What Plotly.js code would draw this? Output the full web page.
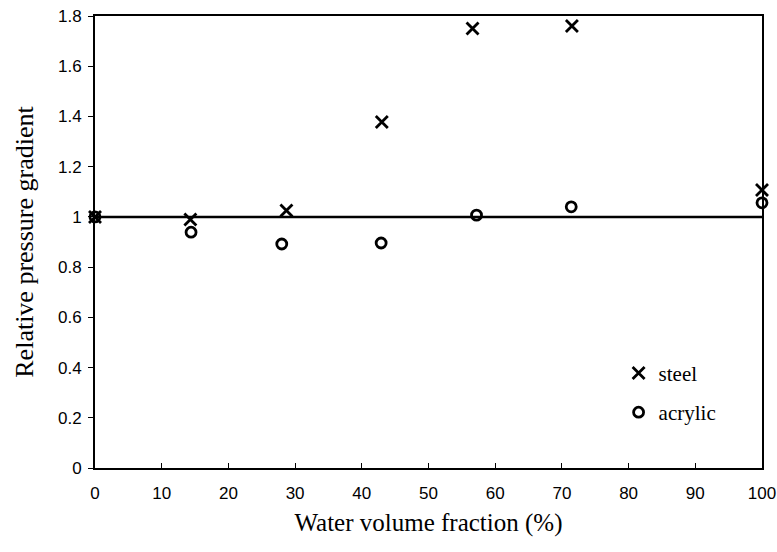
<!DOCTYPE html>
<html>
<head>
<meta charset="utf-8">
<script src="https://cdn.plot.ly/plotly-3.0.1.min.js"></script>
<style>html,body{margin:0;padding:0;background:#fff;}#chart{width:777px;height:552px;}</style>
</head>
<body>
<div id="chart"></div>
<script>
// Data
var steelX = [0, 14.3, 28.7, 43.0, 56.6, 71.5, 100];
var steelY = [1.0, 0.99, 1.025, 1.378, 1.75, 1.76, 1.107];
var acrylicX = [0, 14.4, 28.0, 42.9, 57.2, 71.4, 100];
var acrylicY = [1.0, 0.939, 0.892, 0.896, 1.007, 1.04, 1.056];
var refLineY = 1.0;
var xTicks = [0, 10, 20, 30, 40, 50, 60, 70, 80, 90, 100];
var yTicks = [0, 0.2, 0.4, 0.6, 0.8, 1, 1.2, 1.4, 1.6, 1.8];

var traces = [
  {x: steelX, y: steelY, type: 'scatter', mode: 'markers', name: 'steel', legendgroup: 'a',
   marker: {symbol: 'x-thin-open', size: 12, color: '#000', line: {color: '#000', width: 2.8}}, cliponaxis: false},
  {x: acrylicX, y: acrylicY, type: 'scatter', mode: 'markers', name: 'acrylic', legendgroup: 'b',
   marker: {symbol: 'circle-open', size: 10, color: '#000', line: {color: '#000', width: 2.8}}, cliponaxis: false}
];

var layout = {
  width: 777, height: 552,
  margin: {l: 94.5, r: 15.3, t: 15.7, b: 83.7},
  paper_bgcolor: '#fff', plot_bgcolor: '#fff',
  showlegend: true,
  legend: {x: 0.785, y: 0.255, xanchor: 'left', yanchor: 'top', bgcolor: 'rgba(0,0,0,0)',
           font: {family: 'Liberation Serif', size: 21, color: '#000'}, traceorder: 'grouped', tracegroupgap: 9},
  xaxis: {range: [0, 100], tickvals: xTicks, ticktext: xTicks.map(String), ticks: 'inside', ticklen: 5, tickwidth: 1,
          tickcolor: '#000', showline: true, linecolor: '#000', linewidth: 2, mirror: true, showgrid: false, zeroline: false,
          ticklabelstandoff: 9,
          tickfont: {family: 'Liberation Sans', size: 17, color: '#000'},
          title: {text: 'Water volume fraction (%)', font: {family: 'Liberation Serif', size: 25, color: '#000'}, standoff: 11}},
  yaxis: {range: [0, 1.8], tickvals: yTicks, ticktext: yTicks.map(String), ticks: 'outside', ticklen: 5, tickwidth: 1,
          tickcolor: '#000', showline: true, linecolor: '#000', linewidth: 2, mirror: true, showgrid: false, zeroline: false,
          ticklabelstandoff: 3,
          tickfont: {family: 'Liberation Sans', size: 17, color: '#000'},
          title: {text: 'Relative pressure gradient', font: {family: 'Liberation Serif', size: 26, color: '#000'}, standoff: 17}},
  shapes: [{type: 'line', xref: 'x', yref: 'y', x0: xTicks[0], x1: xTicks[xTicks.length-1], y0: refLineY, y1: refLineY,
            line: {color: '#000', width: 2.5}, layer: 'below'}]
};

Plotly.newPlot('chart', traces, layout, {displayModeBar: false, staticPlot: true});
</script>
</body>
</html>
